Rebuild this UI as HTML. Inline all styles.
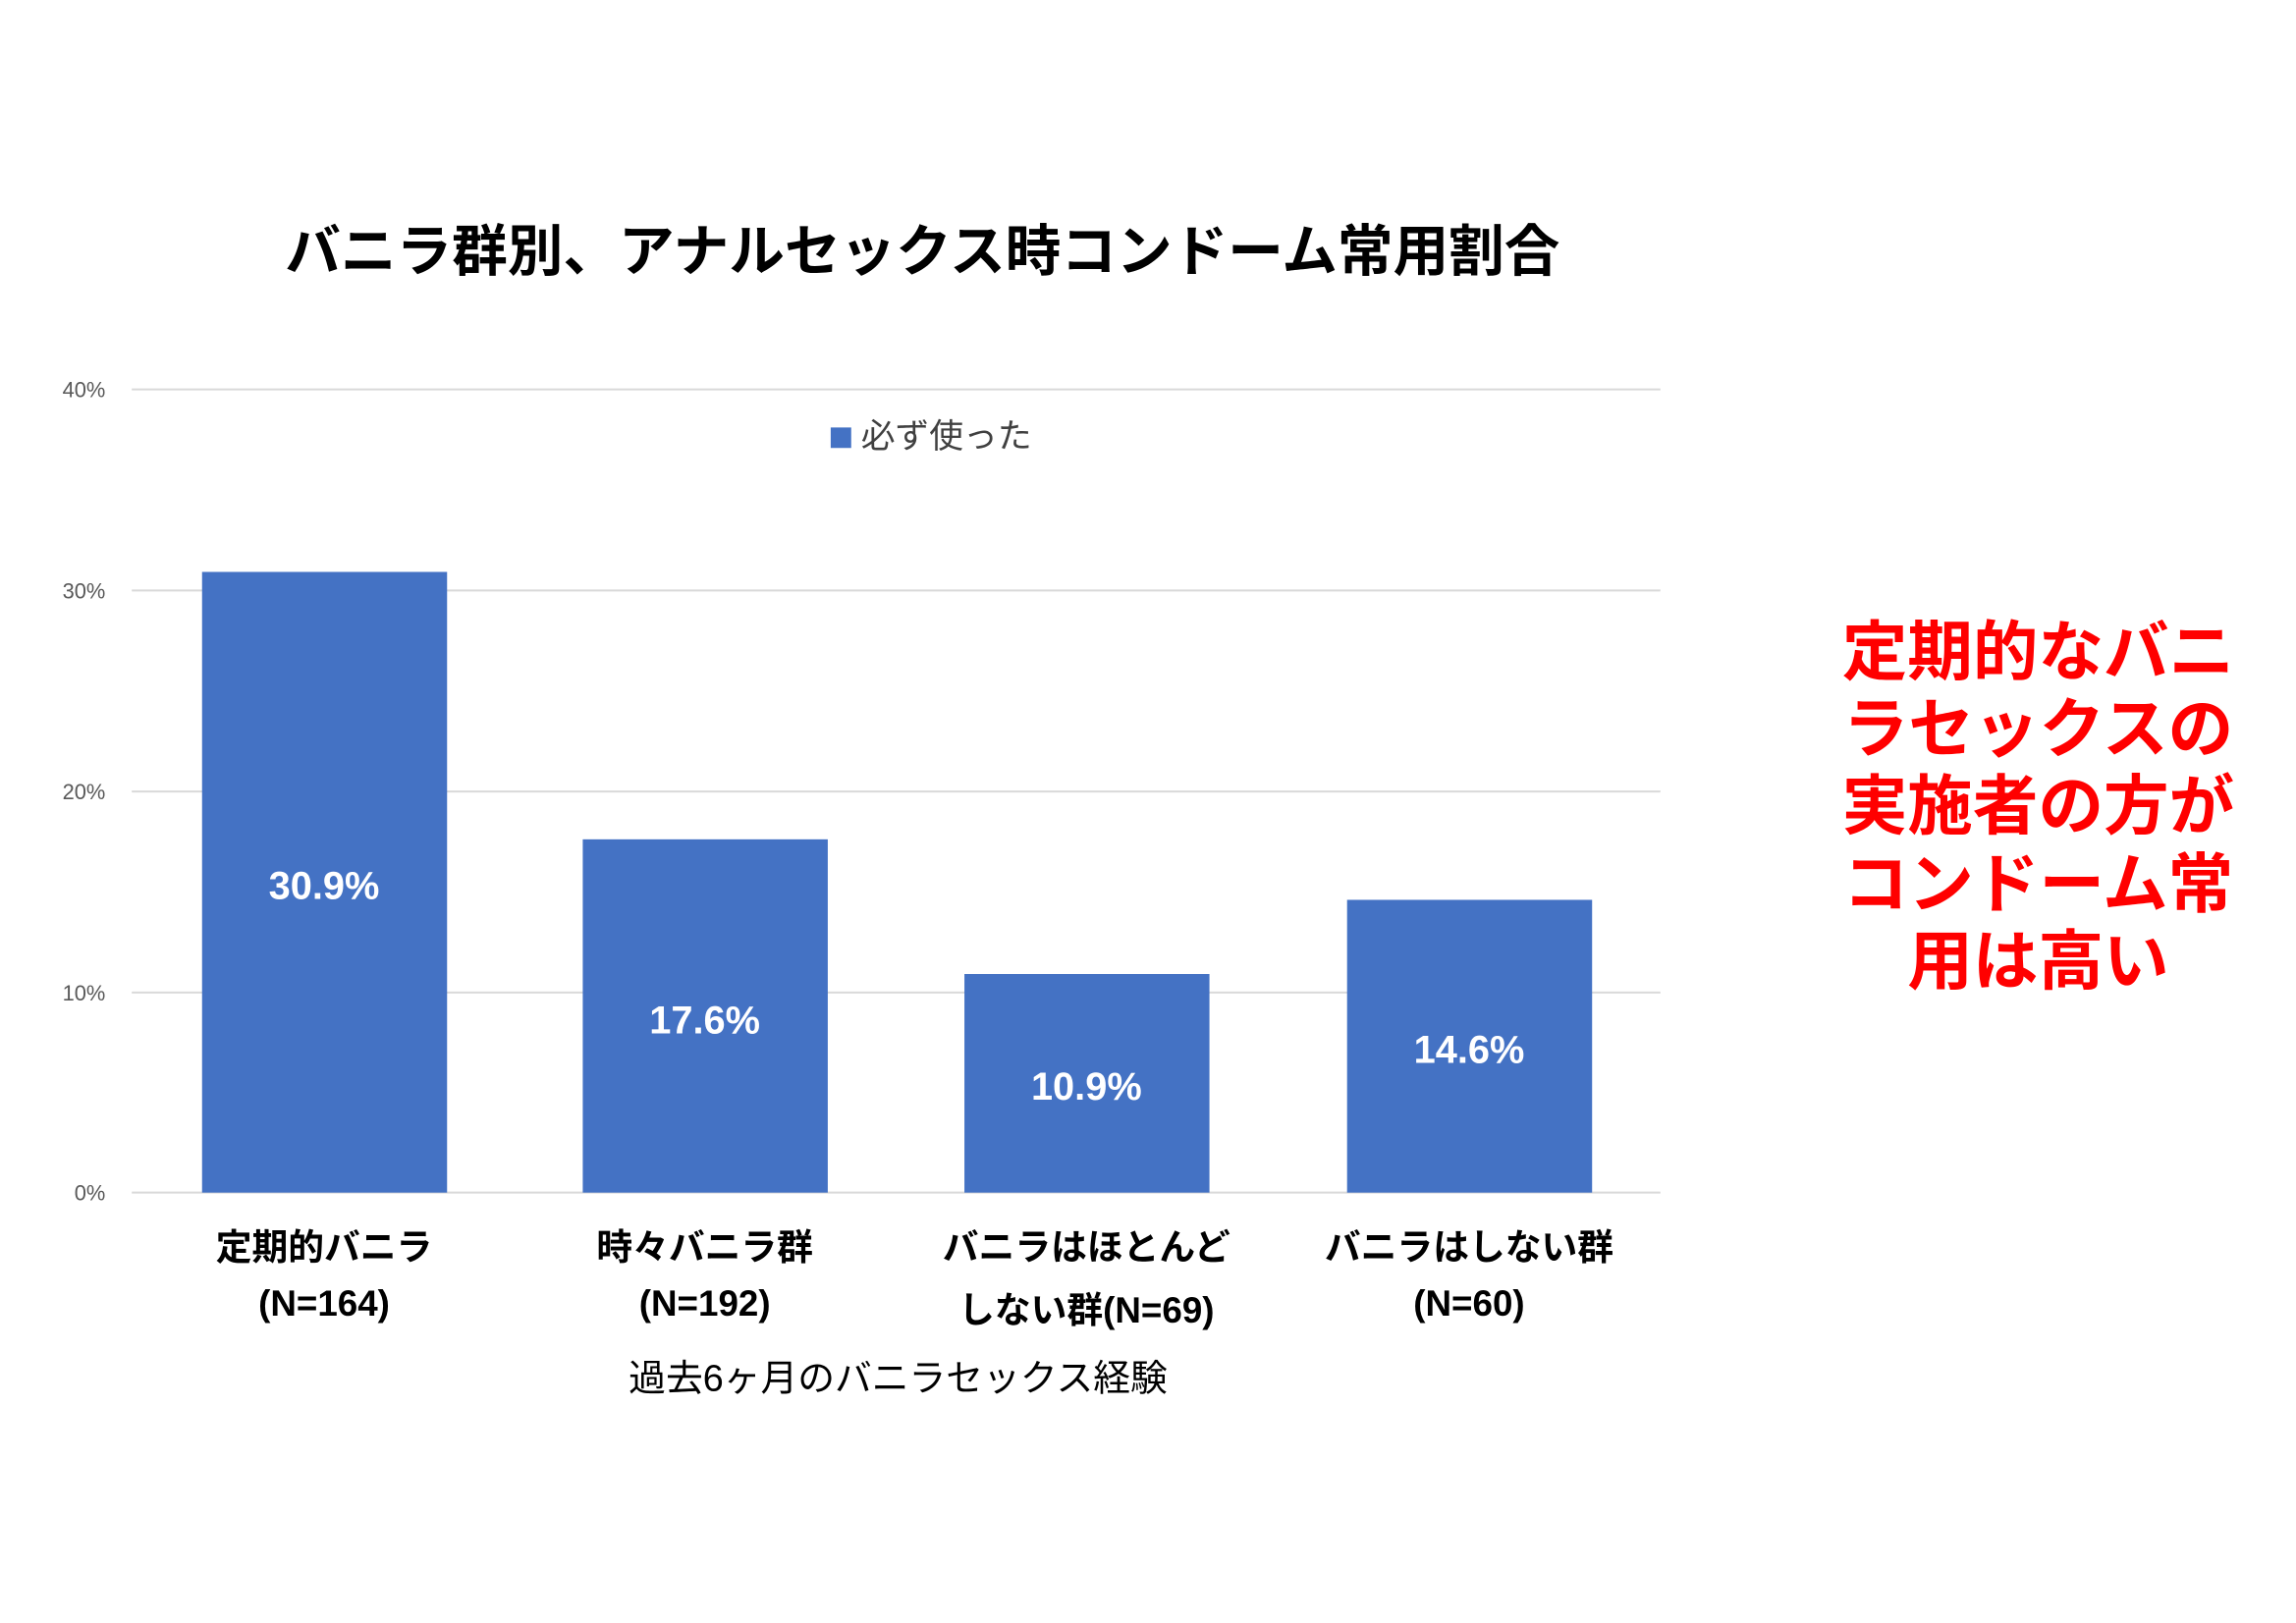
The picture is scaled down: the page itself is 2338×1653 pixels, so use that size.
<!DOCTYPE html>
<html><head><meta charset="utf-8"><style>
html,body{margin:0;padding:0;background:#fff;}
svg{display:block;}
text{font-family:"Liberation Sans","Noto Sans CJK JP",sans-serif;}
</style></head><body>
<svg width="2338" height="1653" viewBox="0 0 2338 1653" xmlns="http://www.w3.org/2000/svg">
<rect width="2338" height="1653" fill="#fff"/>
<g transform="scale(0.994)">
<text x="945" y="277" font-size="57" font-weight="bold" text-anchor="middle" fill="#000">バニラ群別、アナルセックス時コンドーム常用割合</text>
<g stroke="#d9d9d9" stroke-width="2">
<line x1="135" y1="399" x2="1701" y2="399"/>
<line x1="135" y1="605" x2="1701" y2="605"/>
<line x1="135" y1="811" x2="1701" y2="811"/>
<line x1="135" y1="1017" x2="1701" y2="1017"/>
<line x1="135" y1="1222" x2="1701" y2="1222"/>
</g>
<g font-size="22" fill="#595959" text-anchor="end">
<text x="108" y="407">40%</text>
<text x="108" y="613">30%</text>
<text x="108" y="819">20%</text>
<text x="108" y="1025">10%</text>
<text x="108" y="1230">0%</text>
</g>
<rect x="851" y="438" width="21" height="21" fill="#4472c4"/>
<text x="882" y="459" font-size="35" fill="#404040">必ず使った</text>
<g fill="#4472c4">
<rect x="207" y="586" width="251" height="636"/>
<rect x="597" y="860" width="251" height="362"/>
<rect x="988" y="998" width="251" height="224"/>
<rect x="1380" y="922" width="251" height="300"/>
</g>
<g font-size="40" font-weight="bold" fill="#fff" text-anchor="middle">
<text x="332" y="921">30.9%</text>
<text x="722" y="1059">17.6%</text>
<text x="1113" y="1127">10.9%</text>
<text x="1505" y="1089">14.6%</text>
</g>
<g font-size="37" font-weight="bold" fill="#000" text-anchor="middle">
<text x="332" y="1291">定期的バニラ</text>
<text x="332" y="1348">(N=164)</text>
<text x="722" y="1291">時々バニラ群</text>
<text x="722" y="1348">(N=192)</text>
<text x="1113" y="1291">バニラはほとんど</text>
<text x="1113" y="1355">しない群(N=69)</text>
<text x="1505" y="1291">バニラはしない群</text>
<text x="1505" y="1348">(N=60)</text>
</g>
<text x="920" y="1425" font-size="38" fill="#000" text-anchor="middle">過去6ヶ月のバニラセックス経験</text>
<g font-size="67" font-weight="bold" fill="#ff0000" text-anchor="middle">
<text x="2088" y="691">定期的なバニ</text>
<text x="2088" y="770">ラセックスの</text>
<text x="2088" y="849">実施者の方が</text>
<text x="2088" y="929">コンドーム常</text>
<text x="2088" y="1008">用は高い</text>
</g>
</g>
</svg>
</body></html>
